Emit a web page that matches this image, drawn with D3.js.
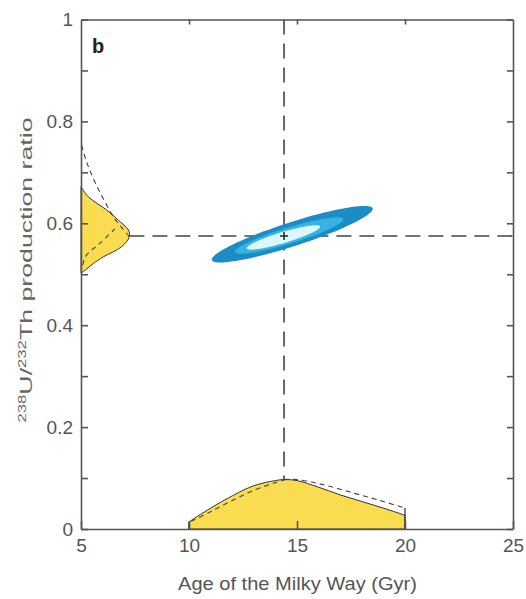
<!DOCTYPE html>
<html>
<head>
<meta charset="utf-8">
<script src="https://cdn.jsdelivr.net/npm/d3@7"></script>
<style>
  body { margin: 0; background: #fff; }
  svg { display: block; font-family: "Liberation Sans", Arial, sans-serif; }
  .axis path, .axis line { stroke: #555; stroke-width: 1.6; }
  .axis text { fill: #555; font-size: 19px; }
</style>
</head>
<body>
<svg id="chart" width="526" height="599"></svg>
<script>
// axis ticks
const ageTicks = [5, 10, 15, 20, 25];
const ratioTicks = [0, 0.1, 0.2, 0.3, 0.4, 0.5, 0.6, 0.7, 0.8, 0.9, 1];
const ratioLabels = ["0", "", "0.2", "", "0.4", "", "0.6", "", "0.8", "", "1"];

// production ratio distribution (left, sideways)
const leftRatio = [0.502, 0.508, 0.521, 0.534, 0.554, 0.574, 0.587, 0.606, 0.626, 0.652, 0.672];
const leftDensity = [5.0, 5.19, 5.57, 6.03, 6.88, 7.24, 7.19, 6.73, 6.19, 5.34, 5.0];
const leftOuterRatio = [0.574, 0.591, 0.611, 0.646, 0.685, 0.724, 0.758];
const leftOuterDensity = [7.24, 6.9, 6.53, 6.06, 5.6, 5.23, 5.0];
const leftInnerRatio = [0.518, 0.536, 0.561, 0.589];
const leftInnerDensity = [5.08, 5.23, 5.88, 6.57];

// age distribution (bottom)
const bottomAge = [10, 11, 12, 13, 14, 14.4, 15, 16, 17, 18, 19, 20];
const bottomDensity = [0.014, 0.041, 0.065, 0.085, 0.095, 0.097, 0.095, 0.082, 0.067, 0.054, 0.041, 0.027];
const bottomLeftAge = [10.1, 11, 12, 13, 14, 14.4];
const bottomLeftDensity = [0.015, 0.034, 0.056, 0.076, 0.091, 0.096];
const bottomRightAge = [14.4, 15, 16, 17, 18, 19, 20];
const bottomRightDensity = [0.097, 0.097, 0.089, 0.078, 0.066, 0.054, 0.041];

// best estimate
const bestAge = 14.4;
const bestRatio = 0.575;

// confidence ellipses: outer, middle, inner
const ellAge = [14.78, 14.63, 14.37];
const ellRatio = [0.5786, 0.576, 0.5722];
const ellMajorAge = [3.72, 2.5, 1.7];
const ellMajorRatio = [0.0508, 0.0324, 0.0216];
const ellMinorAge = [-0.17, -0.107, -0.074];
const ellMinorRatio = [0.0224, 0.015, 0.0104];
const ellColors = ["#1b8cc6", "#35b4e4", "#dcf6fe"];

const margin = { top: 19.5, left: 81 },
  width = 432,
  height = 509.5;

const svg = d3.select("#chart");
const g = svg.append("g").attr("transform", `translate(${margin.left},${margin.top})`);

const x = d3.scaleLinear().domain([5, 25]).range([0, width]);
const y = d3.scaleLinear().domain([0, 1]).range([height, 0]);

const yellow = "#f9dc50";
const smooth = d3.curveCatmullRom.alpha(0.5);

// left distribution
const leftPts = leftRatio.map((r, i) => [leftDensity[i], r]);
g.append("path")
  .datum(leftPts)
  .attr("fill", yellow)
  .attr("stroke", "#333")
  .attr("stroke-width", 1)
  .attr("d", d3.area()
    .y((d) => y(d[1]))
    .x0(x(5))
    .x1((d) => x(d[0]))
    .curve(smooth));

const dashLine = d3.line().x((d) => x(d[0])).y((d) => y(d[1])).curve(smooth);

g.append("path")
  .datum(leftOuterRatio.map((r, i) => [leftOuterDensity[i], r]))
  .attr("fill", "none").attr("stroke", "#444").attr("stroke-width", 1.1)
  .attr("stroke-dasharray", "5,4")
  .attr("d", dashLine);
g.append("path")
  .datum(leftInnerRatio.map((r, i) => [leftInnerDensity[i], r]))
  .attr("fill", "none").attr("stroke", "#444").attr("stroke-width", 1.1)
  .attr("stroke-dasharray", "5,4")
  .attr("d", dashLine);

// bottom distribution
const botPts = bottomAge.map((a, i) => [a, bottomDensity[i]]);
g.append("path")
  .datum(botPts)
  .attr("fill", yellow)
  .attr("stroke", "#333")
  .attr("stroke-width", 1)
  .attr("d", d3.area()
    .x((d) => x(d[0]))
    .y0(y(0))
    .y1((d) => y(d[1]))
    .curve(smooth));
// vertical edges of the age distribution
g.append("path")
  .attr("fill", "none").attr("stroke", "#333").attr("stroke-width", 1.2)
  .attr("d", `M${x(bottomAge[0])},${y(0)}V${y(bottomDensity[0])}M${x(bottomAge[bottomAge.length - 1])},${y(0)}V${y(bottomRightDensity[bottomRightDensity.length - 1])}`);

g.append("path")
  .datum(bottomLeftAge.map((a, i) => [a, bottomLeftDensity[i]]))
  .attr("fill", "none").attr("stroke", "#444").attr("stroke-width", 1.1)
  .attr("stroke-dasharray", "5,4")
  .attr("d", dashLine);
g.append("path")
  .datum(bottomRightAge.map((a, i) => [a, bottomRightDensity[i]]))
  .attr("fill", "none").attr("stroke", "#444").attr("stroke-width", 1.1)
  .attr("stroke-dasharray", "5,4")
  .attr("d", dashLine);

// dashed cross lines
g.append("line")
  .attr("x1", x(bestAge)).attr("x2", x(bestAge))
  .attr("y1", y(1)).attr("y2", y(bottomDensity[5]))
  .attr("stroke", "#444").attr("stroke-width", 1.6)
  .attr("stroke-dasharray", "15,9");
g.append("line")
  .attr("x1", x(leftDensity[5])).attr("x2", x(25))
  .attr("y1", y(bestRatio)).attr("y2", y(bestRatio))
  .attr("stroke", "#444").attr("stroke-width", 1.6)
  .attr("stroke-dasharray", "15,8");

// confidence ellipses
ellAge.forEach((c, i) => {
  const pts = d3.range(0, 360, 4).map((deg) => {
    const t = (deg * Math.PI) / 180;
    return [
      c + ellMajorAge[i] * Math.cos(t) + ellMinorAge[i] * Math.sin(t),
      ellRatio[i] + ellMajorRatio[i] * Math.cos(t) + ellMinorRatio[i] * Math.sin(t),
    ];
  });
  g.append("path")
    .datum(pts)
    .attr("fill", ellColors[i])
    .attr("d", d3.line().x((d) => x(d[0])).y((d) => y(d[1])).curve(d3.curveLinearClosed));
});

// best-fit marker
g.append("path")
  .attr("d", `M${x(bestAge) - 4},${y(bestRatio)}H${x(bestAge) + 4}M${x(bestAge)},${y(bestRatio) - 4}V${y(bestRatio) + 4}`)
  .attr("stroke", "#222").attr("stroke-width", 1.5);

// axes
g.append("g")
  .attr("class", "axis")
  .call(d3.axisLeft(y).tickValues(ratioTicks).tickSize(-7).tickSizeOuter(0).tickPadding(8)
    .tickFormat((d, i) => ratioLabels[i]));

g.append("g")
  .attr("class", "axis")
  .attr("transform", `translate(0,${height})`)
  .call(d3.axisBottom(x).tickValues(ageTicks).tickSize(-8).tickSizeOuter(0).tickPadding(10));

g.append("g")
  .attr("class", "axis")
  .attr("transform", `translate(${width},0)`)
  .call(d3.axisRight(y).tickValues(ratioTicks).tickSize(-6).tickSizeOuter(0).tickFormat(""));

g.append("g")
  .attr("class", "axis")
  .call(d3.axisTop(x).tickValues([10, 15, 20]).tickSize(-5).tickSizeOuter(0).tickFormat(""));

// panel letter
g.append("text")
  .attr("x", 11).attr("y", 33)
  .attr("font-size", 20).attr("font-weight", "bold").attr("fill", "#222")
  .text("b");

// axis titles
svg.append("text")
  .attr("x", 297.5)
  .attr("y", 590)
  .attr("text-anchor", "middle")
  .attr("font-size", 19)
  .attr("fill", "#555")
  .attr("textLength", 239)
  .attr("lengthAdjust", "spacingAndGlyphs")
  .text("Age of the Milky Way (Gyr)");

const yl = svg.append("text")
  .attr("transform", "translate(32,270) rotate(-90)")
  .attr("text-anchor", "middle")
  .attr("font-size", 16)
  .attr("fill", "#666")
  .attr("textLength", 305)
  .attr("lengthAdjust", "spacingAndGlyphs");
yl.append("tspan").attr("font-size", 10).attr("dy", -6).text("238");
yl.append("tspan").attr("dy", 6).text("U/");
yl.append("tspan").attr("font-size", 10).attr("dy", -6).text("232");
yl.append("tspan").attr("dy", 6).text("Th production ratio");
</script>
</body>
</html>
